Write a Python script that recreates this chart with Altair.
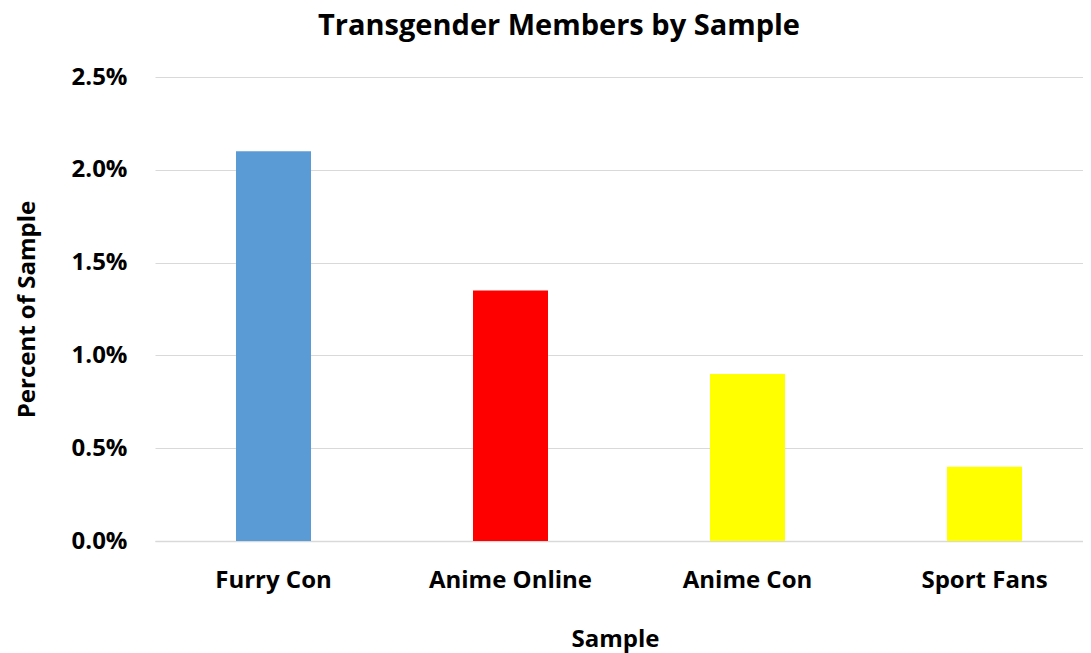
import altair as alt
import pandas as pd

samples = ["Furry Con", "Anime Online", "Anime Con", "Sport Fans"]
percents = [0.021, 0.0135, 0.009, 0.004]
colors = ["#5B9BD5", "#FF0000", "#FFFF00", "#FFFF00"]
y_ticks = [0.0, 0.005, 0.01, 0.015, 0.02, 0.025]

df = pd.DataFrame({"Sample": samples, "Percent": percents, "Color": colors})

FONT = "Open Sans"

chart = alt.Chart(df).mark_bar(size=75).encode(
    x=alt.X("Sample:N", sort=samples, title="Sample",
            scale=alt.Scale(range=[0, 948], paddingInner=0, paddingOuter=0),
            axis=alt.Axis(labelAngle=0, labelFontSize=24, labelFontWeight="bold",
                          labelColor="#000000", labelPadding=27,
                          titleFontSize=24, titleFontWeight="bold", titleColor="#000000",
                          titlePadding=35, titleX=460, ticks=False, domainColor="#D9D9D9",
                          domainWidth=1.5, labelFont=FONT, titleFont=FONT)),
    y=alt.Y("Percent:Q", title="Percent of Sample",
            scale=alt.Scale(domain=[0, 0.025], nice=False),
            axis=alt.Axis(values=y_ticks, format=".1%", labelFontSize=24,
                          labelFontWeight="bold", labelColor="#000000", labelPadding=28,
                          titleFontSize=24, titleFontWeight="bold", titleColor="#000000",
                          titlePadding=32, ticks=False, domain=False,
                          gridColor="#D9D9D9", gridWidth=1.2,
                          labelFont=FONT, titleFont=FONT)),
    color=alt.Color("Color:N", scale=None, legend=None),
).properties(
    width=928,
    height=464,
    padding={"left": 147, "top": 69, "right": 0, "bottom": 112},
    autosize=alt.AutoSizeParams(type="none"),
    title=alt.TitleParams("Transgender Members by Sample", fontSize=29, fontWeight="bold",
                          font=FONT, color="#000000", anchor="middle", dx=-60, offset=24),
).configure_view(stroke=None).configure_axisX(grid=False)

chart.save("out.html", embed_options={"renderer": "svg", "actions": False})
